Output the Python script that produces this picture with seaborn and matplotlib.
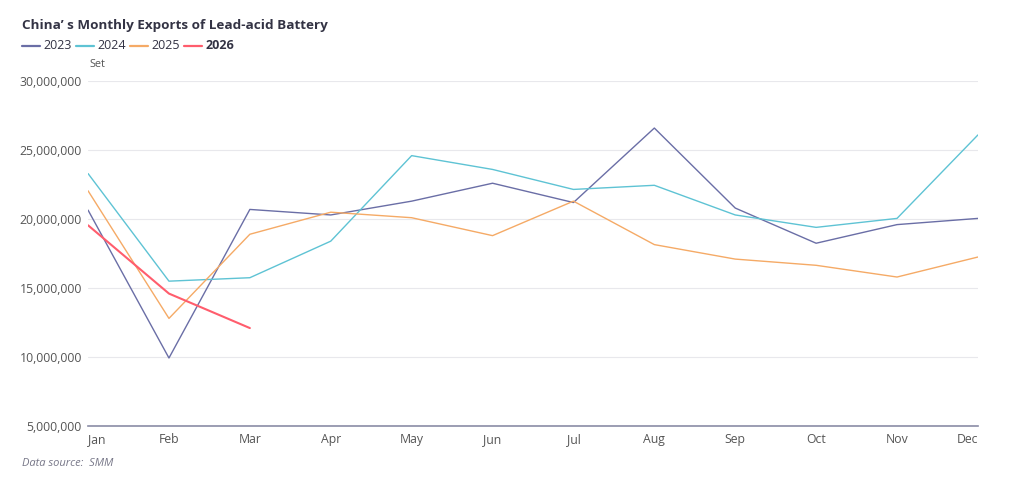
import numpy as np
import pandas as pd
import matplotlib
matplotlib.use("Agg")
import matplotlib.pyplot as plt
import seaborn as sns
from matplotlib.ticker import FuncFormatter
from matplotlib.lines import Line2D

months = ["Jan", "Feb", "Mar", "Apr", "May", "Jun", "Jul", "Aug", "Sep", "Oct", "Nov", "Dec"]
exports_2023 = [20.65, 9.93, 20.7, 20.3, 21.3, 22.6, 21.2, 26.6, 20.8, 18.25, 19.6, 20.05]
exports_2024 = [23.3, 15.5, 15.75, 18.4, 24.6, 23.6, 22.15, 22.45, 20.3, 19.4, 20.05, 26.1]
exports_2025 = [22.05, 12.8, 18.9, 20.5, 20.1, 18.8, 21.3, 18.15, 17.1, 16.65, 15.8, 17.25]
exports_2026 = [19.55, 14.6, 12.1]
years = ["2023", "2024", "2025", "2026"]
colors = ["#6a6ea6", "#5ec3d4", "#f5aa66", "#ff5d6d"]

rows = []
for yr, vals in zip(years, [exports_2023, exports_2024, exports_2025, exports_2026]):
    for i, v in enumerate(vals):
        rows.append({"year": yr, "month": i, "value": v * 1e6})
df = pd.DataFrame(rows)

sns.set_style("white")
plt.rcParams["font.family"] = ["Open Sans", "DejaVu Sans"]

fig = plt.figure(figsize=(10.24, 4.83), dpi=100)
ax = fig.add_axes([0.086, 0.118, 0.869, 0.714])

widths = {"2023": 1.0, "2024": 1.0, "2025": 1.0, "2026": 1.5}
sns.lineplot(data=df, x="month", y="value", hue="year", palette=dict(zip(years, colors)),
             size="year", sizes=widths, ax=ax, legend=False)

ax.set_xlim(0, 11)
ax.set_ylim(5e6, 30e6)
ax.set_yticks(np.arange(5e6, 30.1e6, 5e6))
ax.yaxis.set_major_formatter(FuncFormatter(lambda v, p: f"{int(v):,}"))
ax.set_xticks(range(12))
ax.set_xticklabels(months)
ax.set_xlabel("")
ax.set_ylabel("")
ax.grid(axis="y", color="#e8e8ec", linewidth=0.8)
for s in ["top", "right", "left"]:
    ax.spines[s].set_visible(False)
ax.spines["bottom"].set_color("#8a8ca6")
ax.spines["bottom"].set_linewidth(1.2)
ax.tick_params(axis="both", length=0, labelsize=8.8, colors="#555555")
ax.tick_params(axis="x", pad=5)
ax.tick_params(axis="y", pad=4.5)
xlabels = ax.get_xticklabels()
xlabels[0].set_ha("left")
xlabels[-1].set_ha("right")

fig.text(0.021, 0.948, "China\u2019 s Monthly Exports of Lead-acid Battery", fontsize=9.7,
         fontweight="bold", color="#333344", va="center")
fig.text(0.087, 0.866, "Set", fontsize=7.8, color="#555555", va="center")
fig.text(0.021, 0.04, "Data source:  SMM", fontsize=8, style="italic", color="#777788", va="center")

# legend
x0 = 0.021
for yr, c in zip(years, colors):
    fig.add_artist(Line2D([x0, x0 + 0.018], [0.905, 0.905], color=c, linewidth=1.6,
                          transform=fig.transFigure))
    fig.text(x0 + 0.021, 0.905, yr, fontsize=9, color="#333344", va="center",
             fontweight="bold" if yr == "2026" else "normal")
    x0 += 0.0528

fig.savefig("out.png", dpi=100)
